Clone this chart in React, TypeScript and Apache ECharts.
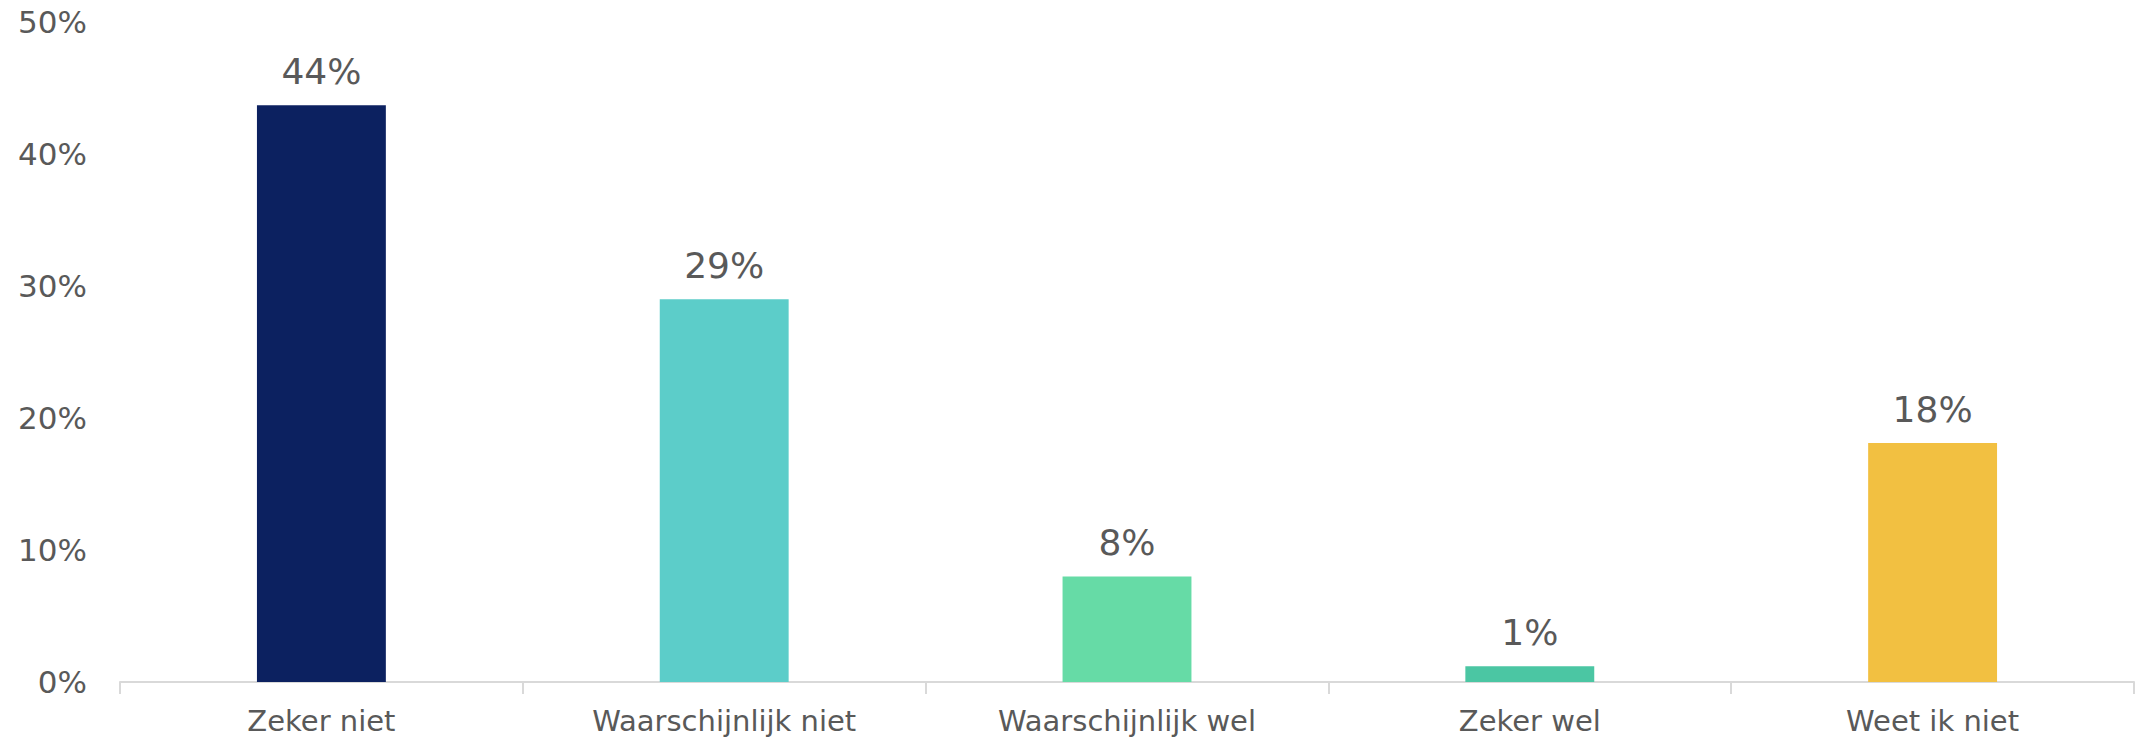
import React, { useEffect, useRef } from "react";
import * as echarts from "echarts";

const categories = ["Zeker niet", "Waarschijnlijk niet", "Waarschijnlijk wel", "Zeker wel", "Weet ik niet"];
const values = [43.7, 29, 8, 1.2, 18.1];
const valueLabels = ["44%", "29%", "8%", "1%", "18%"];
const barColors = ["#0c2160", "#5ccdc9", "#66dba6", "#4bc6a3", "#f2c041"];
const yTicks = [0, 10, 20, 30, 40, 50];

export default function App() {
  const ref = useRef<HTMLDivElement>(null);
  useEffect(() => {
    if (!ref.current) return;
    const chart = echarts.init(ref.current, null, { renderer: "svg" });
    const font = "DejaVu Sans";
    chart.setOption({
      animation: false,
      grid: { left: 120, right: 2, top: 22, bottom: 60, containLabel: false },
      xAxis: {
        type: "category",
        data: categories,
        axisLine: { show: true, lineStyle: { color: "#d9d9d9", width: 2 } },
        axisTick: { show: true, length: 12, lineStyle: { color: "#d9d9d9", width: 2 } },
        axisLabel: { color: "#595959", fontSize: 29, fontFamily: font, margin: 24 },
      },
      yAxis: {
        type: "value",
        min: yTicks[0],
        max: yTicks[yTicks.length - 1],
        interval: 10,
        axisLine: { show: false },
        axisTick: { show: false },
        splitLine: { show: false },
        axisLabel: { color: "#595959", fontSize: 31, fontFamily: font, margin: 33, formatter: "{value}%" },
      },
      series: [
        {
          type: "bar",
          barWidth: "32%",
          data: values.map((v, i) => ({ value: v, itemStyle: { color: barColors[i] } })),
          label: {
            show: true,
            position: "top",
            distance: 16,
            color: "#595959",
            fontSize: 36,
            fontFamily: font,
            formatter: (p: any) => valueLabels[p.dataIndex],
          },
        },
      ],
    });
    return () => chart.dispose();
  }, []);
  return <div ref={ref} style={{ position: "fixed", left: 0, top: 0, width: 2136, height: 742, background: "#fff" }} />;
}
